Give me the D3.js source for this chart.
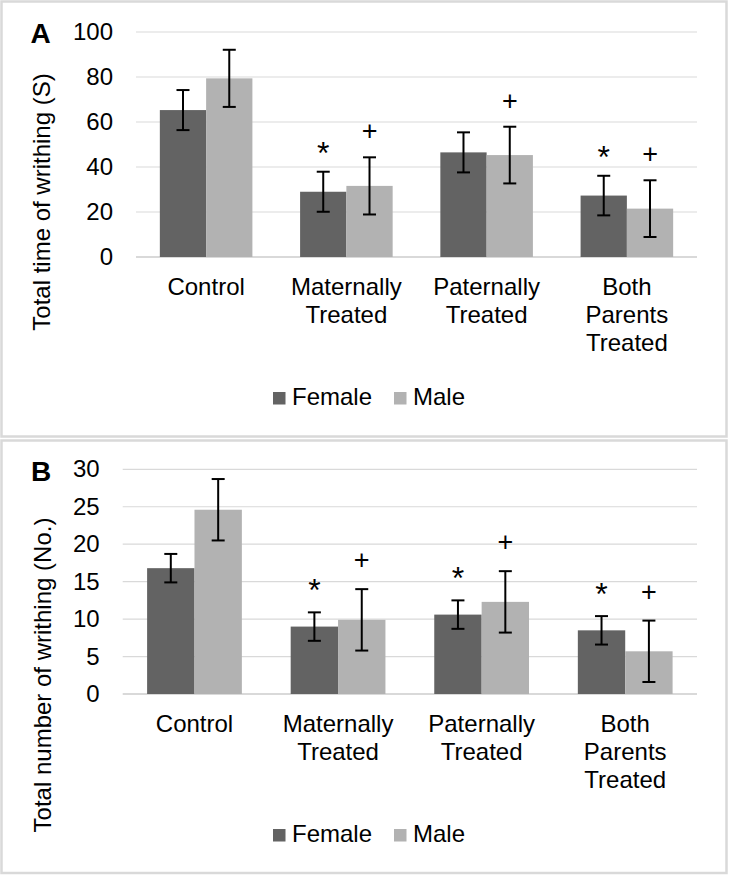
<!DOCTYPE html>
<html>
<head>
<meta charset="utf-8">
<script src="https://cdn.jsdelivr.net/npm/d3@7"></script>
<style>
  body { margin: 0; background: #fff; }
  text { font-family: "Liberation Sans", Arial, sans-serif; fill: #000; }
</style>
</head>
<body>
<div class="root"></div>
<script>
// data
var categories = ["Control", "Maternally Treated", "Paternally Treated", "Both Parents Treated"];
var categoryLines = [["Control"], ["Maternally", "Treated"], ["Paternally", "Treated"], ["Both", "Parents", "Treated"]];
var seriesNames = ["Female", "Male"];

var timeFemale    = [65.3, 29.0, 46.5, 27.3];
var timeFemaleErr = [8.9, 8.9, 8.9, 8.8];
var timeMale      = [79.4, 31.6, 45.3, 21.5];
var timeMaleErr   = [12.7, 12.7, 12.6, 12.6];
var timeMarks     = [["", ""], ["*", "+"], ["", "+"], ["*", "+"]];
var timeTicks     = [0, 20, 40, 60, 80, 100];

var countFemale    = [16.8, 9.0, 10.6, 8.5];
var countFemaleErr = [1.9, 1.9, 1.9, 1.9];
var countMale      = [24.6, 9.9, 12.3, 5.7];
var countMaleErr   = [4.1, 4.1, 4.1, 4.1];
var countMarks     = [["", ""], ["*", "+"], ["*", "+"], ["*", "+"]];
var countTicks     = [0, 5, 10, 15, 20, 25, 30];

// DATA ONLY ^^^

var colors = {"Female": "#636363", "Male": "#b2b2b2"};

var svg = d3.select('.root')
            .append('svg')
            .attr("width", 729)
            .attr("height", 875);

function drawPanel(p) {
  var g = svg.append('g');

  g.append('rect')
   .attr("x", p.frame[0]).attr("y", p.frame[1])
   .attr("width", p.frame[2]).attr("height", p.frame[3])
   .attr("fill", "#fff")
   .attr("stroke", "#d9d9d9")
   .attr("stroke-width", 2.5);

  var y = d3.scaleLinear()
            .domain([0, d3.max(p.ticks)])
            .range([p.bottom, p.top]);

  var x0 = d3.scaleBand()
             .domain(categories)
             .range([p.left, p.right])
             .paddingInner(0.34)
             .paddingOuter(0.17);

  var x1 = d3.scaleBand()
             .domain(seriesNames)
             .range([0, x0.bandwidth()]);

  // gridlines
  g.append('g').selectAll('line')
   .data(p.ticks)
   .enter()
   .append('line')
   .attr("x1", p.left).attr("x2", p.right)
   .attr("y1", function (d) { return y(d); })
   .attr("y2", function (d) { return y(d); })
   .attr("stroke", "#d9d9d9")
   .attr("stroke-width", function (d) { return d == 0 ? 2 : 1.2; });

  // y axis labels
  var yAxis = g.append('g')
               .attr("transform", "translate(" + p.left + ",0)")
               .call(d3.axisLeft(y).tickValues(p.ticks).tickSize(0).tickPadding(23));
  yAxis.select('.domain').remove();
  yAxis.selectAll('text')
       .style("font-family", "'Liberation Sans', Arial, sans-serif")
       .style("font-size", "24px")
       .attr("fill", "#000");

  // bars
  var rows = categories.map(function (c, i) {
    return [
      {cat: c, s: "Female", v: p.female[i], e: p.femaleErr[i], mark: p.marks[i][0]},
      {cat: c, s: "Male", v: p.male[i], e: p.maleErr[i], mark: p.marks[i][1]}
    ];
  });
  var flat = d3.merge(rows);

  var bx = function (d) { return x0(d.cat) + x1(d.s); };
  var cx = function (d) { return x0(d.cat) + x1(d.s) + x1.bandwidth() / 2; };

  g.append('g').selectAll('rect')
   .data(flat)
   .enter()
   .append('rect')
   .attr("x", bx)
   .attr("y", function (d) { return y(d.v); })
   .attr("width", x1.bandwidth())
   .attr("height", function (d) { return p.bottom - y(d.v); })
   .attr("fill", function (d) { return colors[d.s]; });

  // error bars
  var eb = g.append('g').selectAll('g')
            .data(flat)
            .enter()
            .append('g')
            .attr("stroke", "#000")
            .attr("stroke-width", 2);
  eb.append('line')
    .attr("x1", cx).attr("x2", cx)
    .attr("y1", function (d) { return y(d.v - d.e); })
    .attr("y2", function (d) { return y(d.v + d.e); });
  eb.append('line')
    .attr("x1", function (d) { return cx(d) - 6.5; })
    .attr("x2", function (d) { return cx(d) + 6.5; })
    .attr("y1", function (d) { return y(d.v + d.e); })
    .attr("y2", function (d) { return y(d.v + d.e); });
  eb.append('line')
    .attr("x1", function (d) { return cx(d) - 6.5; })
    .attr("x2", function (d) { return cx(d) + 6.5; })
    .attr("y1", function (d) { return y(d.v - d.e); })
    .attr("y2", function (d) { return y(d.v - d.e); });

  // significance marks
  g.append('g').selectAll('text')
   .data(flat.filter(function (d) { return d.mark != ""; }))
   .enter()
   .append('text')
   .attr("x", cx)
   .attr("y", function (d) {
     var c = y(d.v + d.e) - p.markGap;
     return d.mark == "*" ? c + 18 : c + 9;
   })
   .attr("text-anchor", "middle")
   .style("font-size", function (d) { return d.mark == "*" ? "32px" : "27px"; })
   .text(function (d) { return d.mark; });

  // category labels
  var cl = g.append('g').selectAll('text')
            .data(categories)
            .enter()
            .append('text')
            .attr("x", function (d) { return x0(d) + x0.bandwidth() / 2; })
            .attr("y", p.bottom + 38)
            .attr("text-anchor", "middle")
            .style("font-size", "24px");
  cl.selectAll('tspan')
    .data(function (d, i) { return categoryLines[i]; })
    .enter()
    .append('tspan')
    .attr("x", function () { var t = d3.select(this.parentNode); return t.attr("x"); })
    .attr("dy", function (d, i) { return i == 0 ? 0 : 28; })
    .text(function (d) { return d; });

  // axis title
  g.append('text')
   .attr("transform", "translate(" + p.titleX + "," + p.titleY + ") rotate(-90)")
   .attr("text-anchor", "middle")
   .style("font-size", "24px")
   .text(p.title);

  // panel letter
  g.append('text')
   .attr("x", p.letterX)
   .attr("y", p.letterY)
   .style("font-size", "28px")
   .style("font-weight", "bold")
   .text(p.letter);

  // legend
  var lg = g.append('g')
            .attr("transform", "translate(0," + (p.bottom + 148) + ")");
  var legendX = [273, 394];
  seriesNames.forEach(function (s, i) {
    lg.append('rect')
      .attr("x", legendX[i]).attr("y", -13)
      .attr("width", 12.5).attr("height", 12.5)
      .attr("fill", colors[s]);
    lg.append('text')
      .attr("x", legendX[i] + 19)
      .attr("y", 0)
      .style("font-size", "24px")
      .text(s);
  });
}

drawPanel({
  frame: [1.5, 1.5, 725, 435],
  left: 136, right: 697, top: 32, bottom: 257,
  ticks: timeTicks,
  female: timeFemale, femaleErr: timeFemaleErr,
  male: timeMale, maleErr: timeMaleErr,
  marks: timeMarks, markGap: 26,
  title: "Total time of writhing (S)", titleX: 50, titleY: 202,
  letter: "A", letterX: 30.5, letterY: 43
});

drawPanel({
  frame: [1.5, 440.5, 725, 432.5],
  left: 122.7, right: 697, top: 469.3, bottom: 694,
  ticks: countTicks,
  female: countFemale, femaleErr: countFemaleErr,
  male: countMale, maleErr: countMaleErr,
  marks: countMarks, markGap: 29,
  title: "Total number of writhing (No.)", titleX: 51, titleY: 675,
  letter: "B", letterX: 31, letterY: 481
});
</script>
</body>
</html>
